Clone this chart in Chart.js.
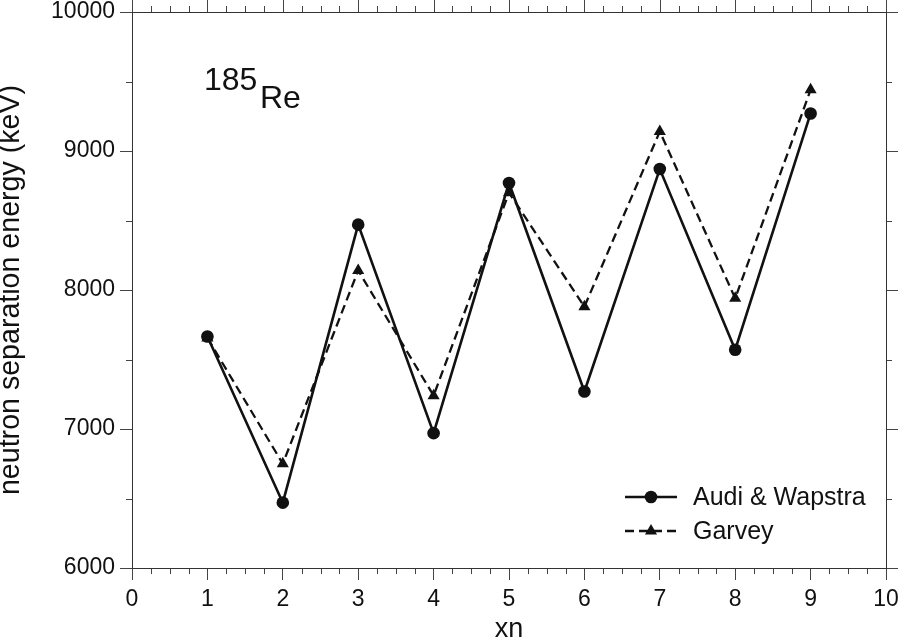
<!DOCTYPE html>
<html>
<head>
<meta charset="utf-8">
<script src="https://cdn.jsdelivr.net/npm/chart.js@4.4.1/dist/chart.umd.min.js"></script>
<style>
  html, body { margin: 0; padding: 0; background: #fff; }
  #wrap { width: 900px; height: 637px; position: relative; }
</style>
</head>
<body>
<div id="wrap"><canvas id="chart"></canvas></div>
<script>
// DATA
const xn = [1, 2, 3, 4, 5, 6, 7, 8, 9];
const audiWapstra = [7665, 6470, 8470, 6970, 8770, 7270, 8870, 7570, 9270];
const garvey = [7655, 6750, 8140, 7240, 8700, 7880, 9140, 7940, 9440];
const seriesNames = ['Audi & Wapstra', 'Garvey'];
const xRange = [0, 10];
const yRange = [6000, 10000];

const FONT = "'Liberation Sans', Arial, Helvetica, sans-serif";
const INK = '#111';

function pts(ys) {
  return xn.map((x, i) => ({ x: x, y: ys[i] }));
}

// ticks on all four sides, minors, frame, label, legend
const frame = {
  id: 'frame',
  afterDraw(chart) {
    const ctx = chart.ctx;
    const a = chart.chartArea;
    const sx = chart.scales.x, sy = chart.scales.y;
    ctx.save();
    ctx.strokeStyle = '#444';
    ctx.lineWidth = 1;
    ctx.beginPath();
    // x ticks: major every 1, minor every 0.25
    for (let v = xRange[0]; v <= xRange[1] + 1e-9; v += 0.25) {
      const px = Math.round(sx.getPixelForValue(v)) + 0.5;
      const major = Math.abs(v - Math.round(v)) < 1e-9;
      const len = major ? 12 : 6;
      if (!major) { ctx.moveTo(px, a.bottom); ctx.lineTo(px, a.bottom + len); }
      ctx.moveTo(px, a.top); ctx.lineTo(px, a.top - len);
    }
    // y ticks: major every 1000, minor every 500
    for (let v = yRange[0]; v <= yRange[1] + 1e-9; v += 500) {
      const py = Math.round(sy.getPixelForValue(v)) + 0.5;
      const major = v % 1000 === 0;
      const len = major ? 12 : 6;
      if (!major) { ctx.moveTo(a.left, py); ctx.lineTo(a.left - len, py); }
      ctx.moveTo(a.right, py); ctx.lineTo(a.right + len, py);
    }
    ctx.stroke();
    ctx.strokeStyle = '#333';
    ctx.strokeRect(Math.round(a.left) + 0.5, Math.round(a.top) + 0.5,
      Math.round(a.right - a.left), Math.round(a.bottom - a.top));

    // nuclide label
    ctx.fillStyle = INK;
    ctx.textBaseline = 'alphabetic';
    ctx.textAlign = 'left';
    ctx.font = '32px ' + FONT;
    ctx.fillText('185', 204, 90);
    ctx.fillText('Re', 260, 108);

    // legend
    const ds = chart.data.datasets;
    const rows = [497, 531];
    ds.forEach((d, i) => {
      const y = rows[i];
      ctx.strokeStyle = d.borderColor;
      ctx.lineWidth = d.borderWidth;
      ctx.setLineDash(d.borderDash || []);
      ctx.beginPath();
      ctx.moveTo(625, y); ctx.lineTo(677, y);
      ctx.stroke();
      ctx.setLineDash([]);
      ctx.fillStyle = INK;
      Chart.helpers.drawPoint(ctx, {
        pointStyle: d.pointStyle, radius: d.pointRadius, borderWidth: 0, rotation: 0
      }, 651, y);
      ctx.font = '25px ' + FONT;
      ctx.textBaseline = 'middle';
      ctx.fillText(d.label, 693, y + 1);
    });
    ctx.restore();
  }
};

function noPad(s) {
  s.paddingTop = 0; s.paddingBottom = 0; s.paddingLeft = 0; s.paddingRight = 0;
}

new Chart(document.getElementById('chart'), {
  type: 'line',
  data: {
    datasets: [
      {
        label: seriesNames[0],
        data: pts(audiWapstra),
        borderColor: INK,
        backgroundColor: INK,
        borderWidth: 2.6,
        pointStyle: 'circle',
        pointRadius: 6.3,
        pointBorderWidth: 0,
        pointBackgroundColor: INK,
        tension: 0
      },
      {
        label: seriesNames[1],
        data: pts(garvey),
        borderColor: INK,
        backgroundColor: INK,
        borderWidth: 2.3,
        borderDash: [9, 5],
        pointStyle: 'triangle',
        pointRadius: 7,
        pointBorderWidth: 0,
        pointBackgroundColor: INK,
        tension: 0
      }
    ]
  },
  options: {
    responsive: true,
    maintainAspectRatio: false,
    animation: false,
    layout: { padding: { top: 12, right: 14, left: 0, bottom: 0 } },
    plugins: { legend: { display: false }, tooltip: { enabled: false } },
    scales: {
      x: {
        type: 'linear',
        min: xRange[0],
        max: xRange[1],
        afterFit: s => { s.height = 69; noPad(s); },
        ticks: { stepSize: 1, color: INK, padding: 6, font: { family: FONT, size: 23 } },
        grid: { drawOnChartArea: false, tickLength: 12, color: '#444' },
        border: { display: false },
        title: { display: true, text: 'xn', color: INK, padding: 0,
                 font: { family: FONT, size: 27, lineHeight: 0.55 } }
      },
      y: {
        min: yRange[0],
        max: yRange[1],
        afterFit: s => { s.width = 132; noPad(s); },
        ticks: { stepSize: 1000, color: INK, padding: 5, font: { family: FONT, size: 23 },
                 callback: v => String(v) },
        grid: { drawOnChartArea: false, tickLength: 12, color: '#444' },
        border: { display: false },
        title: { display: true, text: 'neutron separation energy (keV)', color: INK,
                 padding: 0, font: { family: FONT, size: 28.6, lineHeight: 0.8 } }
      }
    }
  },
  plugins: [frame]
});
</script>
</body>
</html>
